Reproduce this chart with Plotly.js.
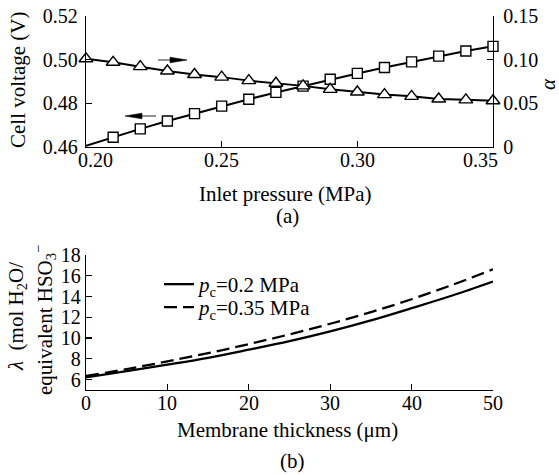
<!DOCTYPE html>
<html>
<head>
<meta charset="utf-8">
<script src="https://cdn.plot.ly/plotly-3.0.1.min.js"></script>
<style>
  html, body { margin: 0; padding: 0; background: #fff; }
  #chart { width: 559px; height: 475px; }
</style>
</head>
<body>
<div id="chart"></div>
<script>
// (a) Inlet pressure sweep: cell voltage (left axis) and alpha (right axis)
const pressure    = [0.20, 0.21, 0.22, 0.23, 0.24, 0.25, 0.26, 0.27, 0.28, 0.29, 0.30, 0.31, 0.32, 0.33, 0.34, 0.35];
const cellVoltage = [0.4605, 0.4645, 0.4683, 0.4719, 0.4753, 0.4787, 0.4819, 0.4850, 0.4879, 0.4910, 0.4937, 0.4964, 0.4990, 0.5016, 0.5040, 0.5061];
const alphaRatio  = [0.101, 0.097, 0.092, 0.087, 0.083, 0.080, 0.076, 0.073, 0.070, 0.066, 0.063, 0.060, 0.058, 0.055, 0.054, 0.053];

// (b) Water content across the membrane for two cathode pressures
const thickness   = [0, 5, 10, 15, 20, 25, 30, 35, 40, 45, 50];
const lambdaPc020 = [6.22, 6.82, 7.44, 8.10, 8.88, 9.70, 10.64, 11.70, 12.88, 14.10, 15.44];
const lambdaPc035 = [6.35, 7.02, 7.76, 8.55, 9.42, 10.36, 11.38, 12.50, 13.74, 15.12, 16.62];

// Tick values and labels
const pressureTicks  = [0.20, 0.25, 0.30, 0.35];
const voltageTicks   = [0.46, 0.48, 0.50, 0.52];
const alphaTicks     = [0, 0.05, 0.10, 0.15];
const alphaTickText  = ['0', '0.05', '0.10', '0.15'];
const thicknessTicks = [0, 10, 20, 30, 40, 50];
const lambdaTicks    = [6, 8, 10, 12, 14, 16, 18];

const W = 559, H = 475;
const M = { l: 86, r: 66, t: 16, b: 85 };
const PW = W - M.l - M.r, PH = H - M.t - M.b;
// page pixel -> paper fraction
const fx = px => (px - M.l) / PW;
const fy = py => (H - M.b - py) / PH;

const FONT = 'Liberation Serif';
const INK = '#000';

const axisBase = {
  showline: true, linecolor: INK, linewidth: 1.3,
  ticks: 'inside', ticklen: 6, tickwidth: 1.2, tickcolor: INK,
  showgrid: false, zeroline: false,
  tickfont: { family: FONT, size: 20, color: INK },
  fixedrange: true
};

const traces = [
  {
    x: pressure, y: cellVoltage, xaxis: 'x', yaxis: 'y',
    mode: 'lines+markers', showlegend: false, cliponaxis: false,
    line: { color: INK, width: 2 },
    marker: {
      symbol: 'square', size: 10, color: '#fff',
      opacity: cellVoltage.map((v, i) => (i === 0 ? 0 : 1)),
      line: { color: INK, width: 1.4 }
    }
  },
  {
    x: pressure, y: alphaRatio, xaxis: 'x', yaxis: 'y2',
    mode: 'lines+markers', showlegend: false, cliponaxis: false,
    line: { color: INK, width: 2 },
    marker: { symbol: 'triangle-up', size: 12, color: '#fff', line: { color: INK, width: 1.4 } }
  },
  {
    x: thickness, y: lambdaPc020, xaxis: 'x2', yaxis: 'y3',
    mode: 'lines', line: { color: INK, width: 2.3, shape: 'spline' },
    name: '<i>p</i><sub>c</sub>=0.2 MPa', legend: 'legend'
  },
  {
    x: thickness, y: lambdaPc035, xaxis: 'x2', yaxis: 'y3',
    mode: 'lines', line: { color: INK, width: 2.3, dash: '13px,6px', shape: 'spline' },
    name: '<i>p</i><sub>c</sub>=0.35 MPa', legend: 'legend2'
  }
];

const txt = (text, px, py, extra) => Object.assign({
  text, xref: 'paper', yref: 'paper', x: fx(px), y: fy(py),
  xanchor: 'center', yanchor: 'middle', showarrow: false,
  font: { family: FONT, size: 21, color: INK }
}, extra || {});

const annotations = [
  txt('Cell voltage (V)', 18, 80, { textangle: -90 }),
  txt('<i>α</i>', 548, 84, { textangle: -90 }),
  txt('Inlet pressure (MPa)', 285, 194),
  txt('(a)', 287, 216),
  txt('<i>λ</i>  (mol H<sub>2</sub>O/', 17, 317, { textangle: -90 }),
  txt('equivalent HSO<sub>3</sub><sup>−</sup>', 44, 320, { textangle: -90 }),
  txt('Membrane thickness (μm)', 287, 430),
  txt('(b)', 292, 461)
];

// x tick labels of panel (a); the end labels sit inside the frame
pressureTicks.forEach((t, i) => {
  annotations.push({
    text: t.toFixed(2), xref: 'x', yref: 'paper', x: t, y: fy(160),
    xanchor: 'center', yanchor: 'middle', showarrow: false,
    xshift: i === 0 ? 9 : (i === pressureTicks.length - 1 ? -13 : 0),
    font: { family: FONT, size: 20, color: INK }
  });
});

// x tick labels of panel (b)
thicknessTicks.forEach(t => {
  annotations.push({
    text: String(t), xref: 'x2', yref: 'paper', x: t, y: fy(403),
    xanchor: 'center', yanchor: 'middle', showarrow: false,
    font: { family: FONT, size: 20, color: INK }
  });
});

// Arrows pointing each curve to its axis
function arrow(xTail, xTip, py) {
  const dir = Math.sign(xTip - xTail);
  const headLen = 17, half = 2.8;
  const xBase = xTip - dir * headLen;
  return [
    { type: 'line', xref: 'paper', yref: 'paper',
      x0: fx(xTail), y0: fy(py), x1: fx(xBase + dir * 2), y1: fy(py),
      line: { color: '#444', width: 1.2 } },
    { type: 'path', xref: 'paper', yref: 'paper',
      path: `M${fx(xTip)},${fy(py)} L${fx(xBase)},${fy(py - half)} L${fx(xBase)},${fy(py + half)} Z`,
      fillcolor: INK, line: { color: INK, width: 0.6 } }
  ];
}
const shapes = [].concat(arrow(158, 187, 60), arrow(156, 125, 116));

const layout = {
  width: W, height: H,
  margin: M,
  paper_bgcolor: '#fff', plot_bgcolor: 'rgba(0,0,0,0)',
  font: { family: FONT, size: 20, color: INK },
  xaxis: Object.assign({}, axisBase, {
    domain: [0, 1], anchor: 'y', range: [0.2, 0.35],
    tickvals: pressureTicks, showticklabels: false
  }),
  yaxis: Object.assign({}, axisBase, {
    domain: [fy(147), 1], anchor: 'x', range: [0.46, 0.52],
    tickvals: voltageTicks, tickformat: '.2f', ticklabelstandoff: 3
  }),
  yaxis2: Object.assign({}, axisBase, {
    overlaying: 'y', side: 'right', anchor: 'x', range: [0, 0.15],
    tickvals: alphaTicks, ticktext: alphaTickText, ticklabelstandoff: 5
  }),
  xaxis2: Object.assign({}, axisBase, {
    domain: [0, 1], anchor: 'y3', range: [0, 50],
    tickvals: thicknessTicks, showticklabels: false
  }),
  yaxis3: Object.assign({}, axisBase, {
    domain: [0, fy(255)], anchor: 'x2', range: [5, 18],
    tickvals: lambdaTicks
  }),
  legend: {
    x: fx(159), y: fy(264), xanchor: 'left', yanchor: 'top',
    bgcolor: 'rgba(0,0,0,0)', borderwidth: 0,
    font: { family: FONT, size: 21, color: INK }
  },
  legend2: {
    x: fx(159), y: fy(287), xanchor: 'left', yanchor: 'top',
    bgcolor: 'rgba(0,0,0,0)', borderwidth: 0,
    font: { family: FONT, size: 21, color: INK }
  },
  annotations, shapes,
  showlegend: true
};

Plotly.newPlot('chart', traces, layout, { staticPlot: true, displayModeBar: false });
</script>
</body>
</html>
